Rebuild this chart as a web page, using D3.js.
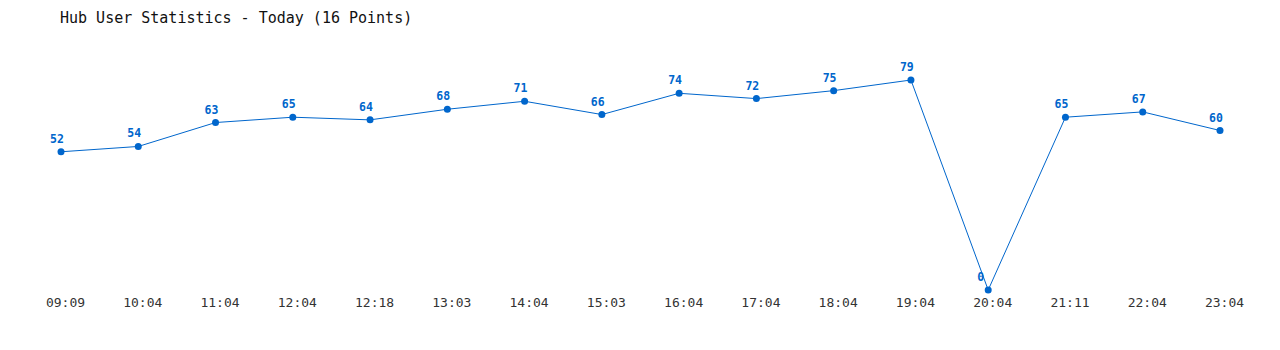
<!DOCTYPE html>
<html>
<head>
<meta charset="utf-8">
<script src="https://cdn.jsdelivr.net/npm/d3@7"></script>
<style>
  body { margin: 0; background: #fff; }
  svg { display: block; }
  text { font-family: "DejaVu Sans Mono", "Liberation Mono", monospace; }
</style>
</head>
<body>
<div id="chart"></div>
<script>
const times = ["09:09", "10:04", "11:04", "12:04", "12:18", "13:03", "14:04", "15:03",
  "16:04", "17:04", "18:04", "19:04", "20:04", "21:11", "22:04", "23:04"];
const users = [52, 54, 63, 65, 64, 68, 71, 66, 74, 72, 75, 79, 0, 65, 67, 60];
const title = "Hub User Statistics - Today (16 Points)";

const width = 1280, height = 350;
const blue = "#0066cc";

const svg = d3.select("#chart")
  .append("svg")
  .attr("width", width)
  .attr("height", height);

let x = d3.scalePoint()
  .domain(times)
  .range([61, 1220]);

let y = d3.scaleLinear()
  .domain([0, d3.max(users)])
  .range([290, 80]);

svg.append("text")
  .text(title)
  .attr("x", 60)
  .attr("y", 23)
  .attr("font-size", "15px")
  .attr("fill", "#111");

// x axis labels only, no axis line
const xAxis = svg.append("g")
  .attr("transform", "translate(4,298)")
  .call(d3.axisBottom(x).tickSize(0).tickPadding(0));
xAxis.select(".domain").remove();
xAxis.selectAll("text")
  .attr("font-family", "DejaVu Sans Mono, monospace")
  .attr("font-size", "13px")
  .attr("fill", "#333");

const data = times.map((t, i) => ({ t: t, v: users[i] }));

let line = d3.line()
  .x((d) => x(d.t))
  .y((d) => y(d.v));

svg.append("path")
  .datum(data)
  .attr("d", line)
  .attr("fill", "none")
  .attr("stroke", blue)
  .attr("stroke-width", 1);

svg.selectAll("circle.pt")
  .data(data)
  .join("circle")
  .attr("class", "pt")
  .attr("cx", (d) => x(d.t))
  .attr("cy", (d) => y(d.v))
  .attr("r", 3.5)
  .attr("fill", blue);

svg.selectAll("text.val")
  .data(data)
  .join("text")
  .attr("class", "val")
  .text((d) => d.v)
  .attr("x", (d) => x(d.t) - 11)
  .attr("y", (d) => y(d.v) - 9)
  .attr("font-size", "11.5px")
  .attr("font-weight", "bold")
  .attr("fill", blue);
</script>
</body>
</html>
